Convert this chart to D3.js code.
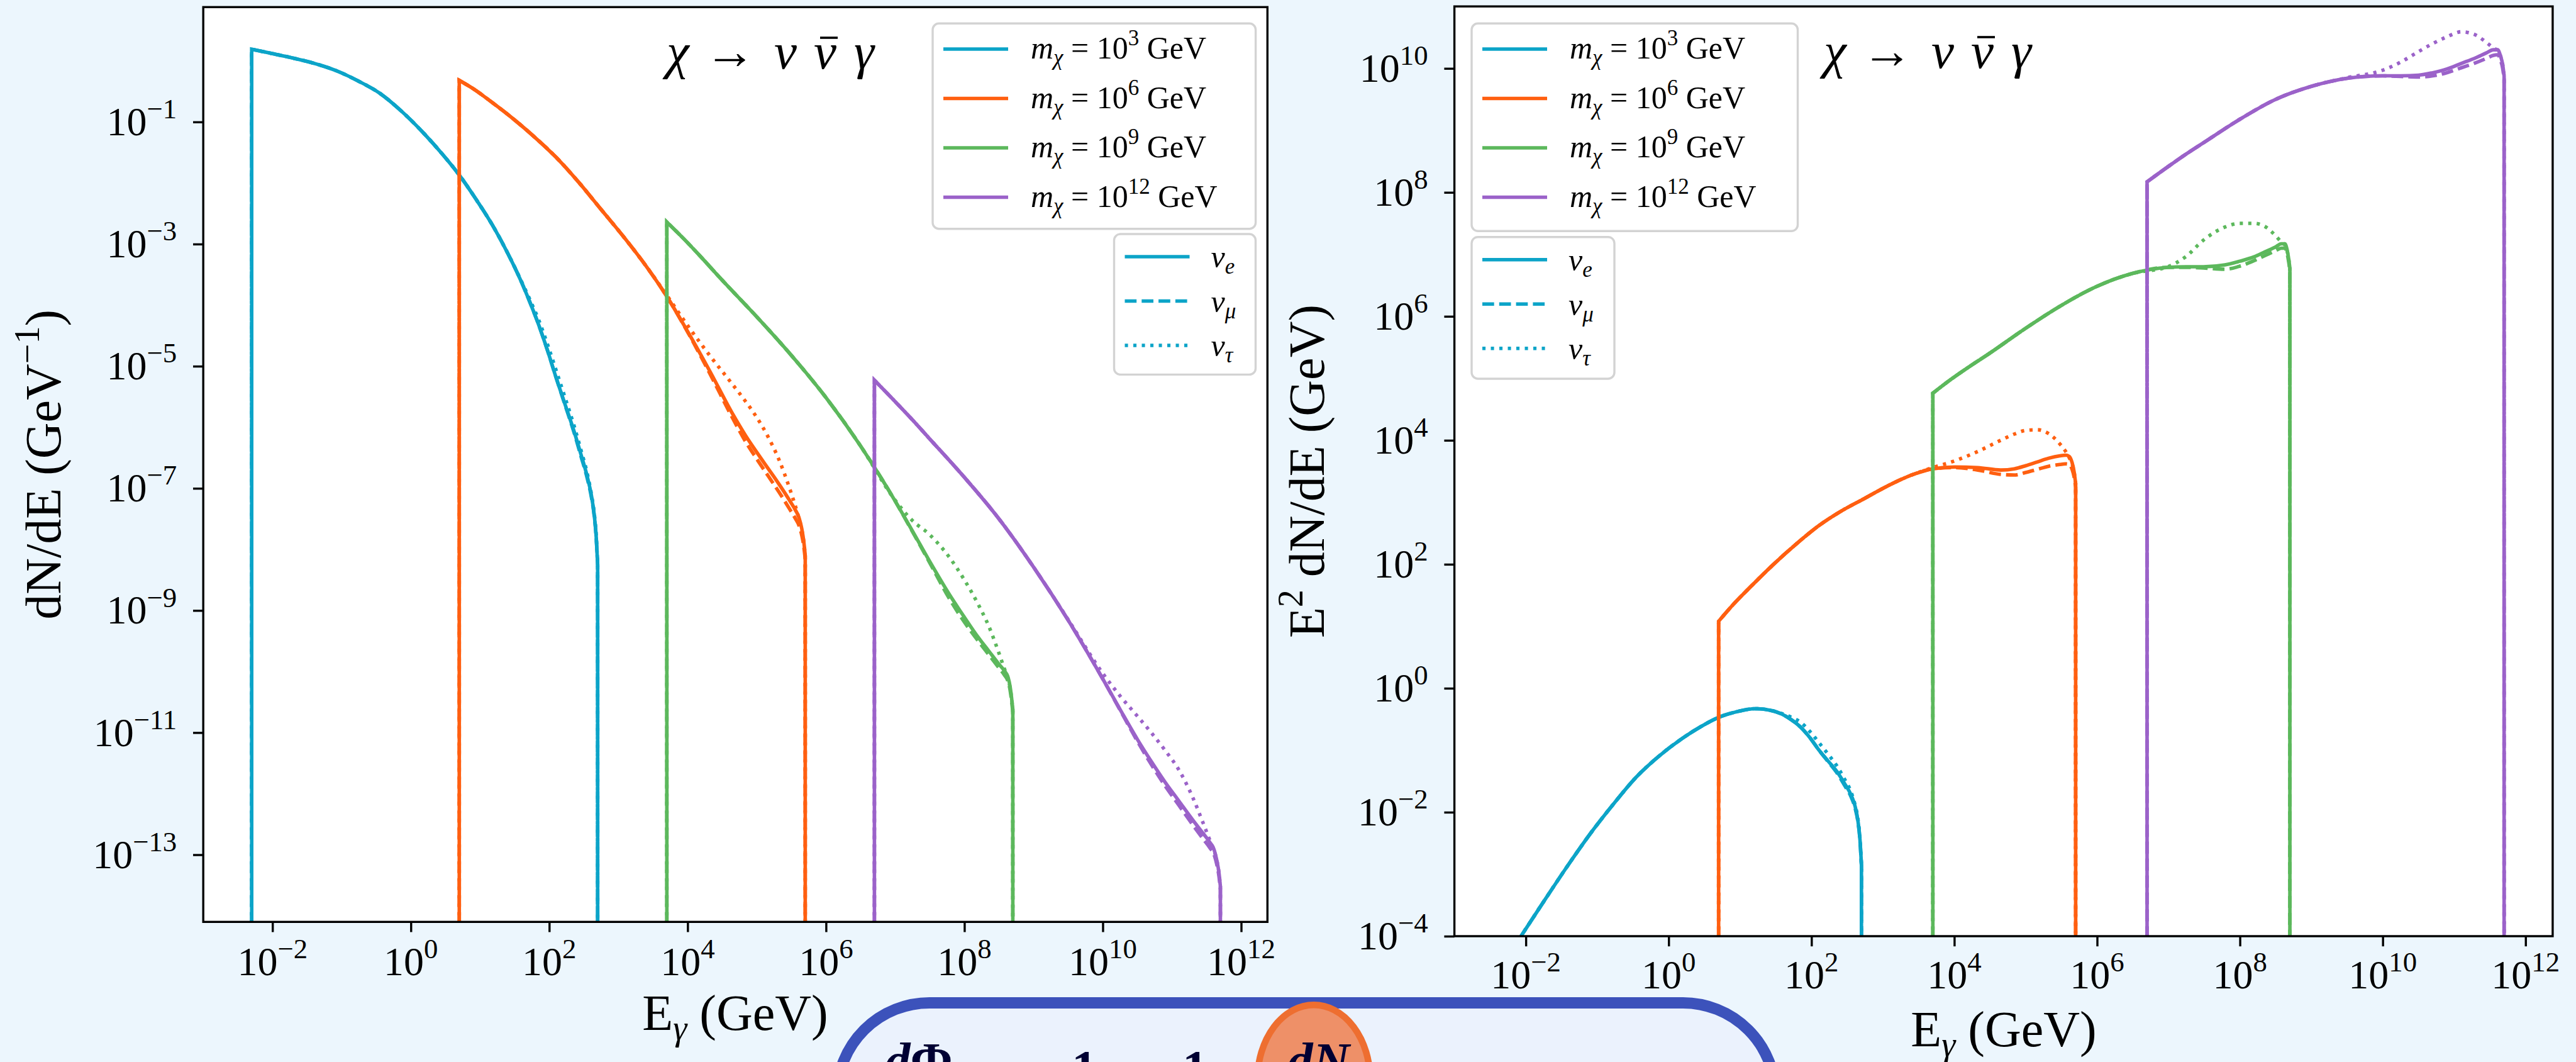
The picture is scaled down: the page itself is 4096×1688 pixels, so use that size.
<!DOCTYPE html>
<html>
<head>
<meta charset="utf-8">
<script src="https://cdn.jsdelivr.net/npm/d3@7"></script>
<style>
    html, body { margin: 0; padding: 0; background: #ecf6fd; overflow: hidden; }
    svg { display: block; }
    text { font-family: "Liberation Serif", "Times New Roman", serif; fill: #000; }
</style>
</head>
<body>
<div id="chart"></div>
<script>
// ---- data (log10 values) ----
// photon energies, log10(E / GeV), for each dark matter mass
const logE_1e3  = [-2.30, -2.05, -1.72, -1.40, -1.08, -0.76, -0.45, -0.13, 0.19, 0.45, 0.70, 0.95, 1.21, 1.40, 1.59, 1.72, 1.85, 1.98, 2.10, 2.23, 2.36, 2.46, 2.55, 2.61, 2.65, 2.68, 2.70];
const logE_1e6  = [0.70, 0.92, 1.15, 1.47, 1.79, 2.10, 2.42, 2.74, 3.06, 3.38, 3.70, 4.01, 4.33, 4.65, 4.84, 5.00, 5.16, 5.32, 5.48, 5.56, 5.61, 5.65, 5.68, 5.70];
const logE_1e9  = [3.70, 3.95, 4.20, 4.49, 4.99, 5.49, 5.99, 6.49, 6.99, 7.25, 7.49, 7.79, 8.00, 8.20, 8.35, 8.50, 8.58, 8.63, 8.66, 8.68, 8.70];
const logE_1e12 = [6.70, 7.00, 7.25, 7.49, 8.00, 8.50, 9.00, 9.50, 10.00, 10.25, 10.50, 10.70, 10.90, 11.10, 11.30, 11.45, 11.55, 11.61, 11.65, 11.68, 11.70];

// log10(E^2 dN/dE / GeV) per neutrino flavour
const nuE_1e3   = [-4.41, -3.97, -3.39, -2.84, -2.32, -1.85, -1.43, -1.09, -0.81, -0.62, -0.47, -0.38, -0.33, -0.35, -0.42, -0.51, -0.63, -0.80, -0.99, -1.17, -1.35, -1.53, -1.71, -1.90, -2.13, -2.45, -2.85];
const nuMu_1e3  = [-4.41, -3.97, -3.39, -2.84, -2.32, -1.85, -1.43, -1.09, -0.81, -0.62, -0.47, -0.38, -0.33, -0.35, -0.42, -0.51, -0.63, -0.80, -0.99, -1.18, -1.37, -1.56, -1.74, -1.93, -2.15, -2.46, -2.86];
const nuTau_1e3 = [-4.41, -3.97, -3.39, -2.84, -2.32, -1.85, -1.43, -1.09, -0.81, -0.62, -0.47, -0.38, -0.33, -0.35, -0.41, -0.47, -0.55, -0.70, -0.87, -1.06, -1.26, -1.46, -1.66, -1.88, -2.10, -2.43, -2.85];

const nuE_1e6   = [1.08, 1.37, 1.64, 2.00, 2.33, 2.62, 2.86, 3.06, 3.26, 3.43, 3.54, 3.57, 3.56, 3.52, 3.54, 3.59, 3.65, 3.71, 3.75, 3.76, 3.74, 3.64, 3.48, 3.30];
const nuMu_1e6  = [1.08, 1.37, 1.64, 2.00, 2.33, 2.62, 2.86, 3.06, 3.26, 3.43, 3.54, 3.56, 3.52, 3.45, 3.44, 3.48, 3.53, 3.58, 3.61, 3.62, 3.61, 3.53, 3.40, 3.24];
const nuTau_1e6 = [1.08, 1.37, 1.64, 2.00, 2.33, 2.62, 2.86, 3.06, 3.26, 3.43, 3.56, 3.67, 3.82, 4.00, 4.10, 4.16, 4.17, 4.11, 3.94, 3.82, 3.72, 3.62, 3.48, 3.30];

const nuE_1e9   = [4.76, 4.98, 5.18, 5.40, 5.80, 6.17, 6.48, 6.69, 6.79, 6.80, 6.80, 6.83, 6.89, 6.96, 7.04, 7.12, 7.17, 7.17, 7.08, 6.95, 6.78];
const nuMu_1e9  = [4.76, 4.98, 5.18, 5.40, 5.80, 6.17, 6.48, 6.69, 6.79, 6.79, 6.78, 6.76, 6.81, 6.90, 6.98, 7.06, 7.10, 7.10, 7.02, 6.90, 6.74];
const nuTau_1e9 = [4.76, 4.98, 5.18, 5.40, 5.80, 6.17, 6.48, 6.69, 6.80, 6.97, 7.23, 7.44, 7.50, 7.50, 7.45, 7.30, 7.20, 7.15, 7.06, 6.95, 6.78];

const nuE_1e12   = [8.17, 8.42, 8.62, 8.80, 9.18, 9.50, 9.71, 9.84, 9.88, 9.88, 9.89, 9.93, 9.99, 10.08, 10.17, 10.25, 10.30, 10.30, 10.20, 10.06, 9.88];
const nuMu_1e12  = [8.17, 8.42, 8.62, 8.80, 9.18, 9.50, 9.71, 9.84, 9.88, 9.87, 9.86, 9.88, 9.93, 10.01, 10.09, 10.16, 10.21, 10.22, 10.13, 10.00, 9.83];
const nuTau_1e12 = [8.17, 8.42, 8.62, 8.80, 9.18, 9.50, 9.71, 9.85, 9.97, 10.10, 10.27, 10.40, 10.51, 10.59, 10.54, 10.42, 10.33, 10.28, 10.20, 10.06, 9.88];

const massExps = ['3', '6', '9', '12'];
const flavourSubs = ['e', 'μ', 'τ'];
const xTickExps = [-2, 0, 2, 4, 6, 8, 10, 12];
const leftYTickExps = [-13, -11, -9, -7, -5, -3, -1];
const rightYTickExps = [-4, -2, 0, 2, 4, 6, 8, 10];

// ---- style ----
const colors = ['#0ca4c8', '#ff5f10', '#5cb85c', '#9b62c9'];
const dashes = [null, '18.7,8.1', '5.1,8.4'];
const LW = 5.6;
const FS_TICK = 64, FS_LABEL = 80, FS_LEG = 50, FS_TITLE = 81;

const spectra = [
    { logE: logE_1e3,  flav: [nuE_1e3,  nuMu_1e3,  nuTau_1e3] },
    { logE: logE_1e6,  flav: [nuE_1e6,  nuMu_1e6,  nuTau_1e6] },
    { logE: logE_1e9,  flav: [nuE_1e9,  nuMu_1e9,  nuTau_1e9] },
    { logE: logE_1e12, flav: [nuE_1e12, nuMu_1e12, nuTau_1e12] }
];

const panels = [
    {
        id: 'left', x0: 323.2, x1: 2015.3, y0: 11.3, y1: 1465.3,
        yDom: [-14.1, 0.88], yTicks: leftYTickExps,
        tickBase: 1550, xLab: [1169, 1637], yLab: [95.6, 738.3], titleX: 1060, titleY: 109,
        leg1: { x: 1483, y: 37.3, w: 513.6, h: 326.4 }, leg2: { x: 1771.5, y: 372, w: 225, h: 223.4 },
        yLabel: [{ t: 'dN/dE (GeV' }, { t: '−1', pos: 'sup' }, { t: ')' }],
        value: (le, lv) => lv - 2 * le      // dN/dE = (E^2 dN/dE) / E^2
    },
    {
        id: 'right', x0: 2312.6, x1: 4058.9, y0: 10.2, y1: 1488,
        yDom: [-4, 11], yTicks: rightYTickExps,
        tickBase: 1571, xLab: [3186, 1663], yLab: [2105, 749], titleX: 2900, titleY: 108,
        leg1: { x: 2340, y: 37.3, w: 518.5, h: 330 }, leg2: { x: 2340, y: 376.7, w: 227, h: 225.3 },
        yLabel: [{ t: 'E' }, { t: '2', pos: 'sup' }, { t: ' dN/dE (GeV)' }],
        value: (le, lv) => lv
    }
];

const svg = d3.select('#chart').append('svg')
    .attr('width', 4096)
    .attr('height', 1688);

svg.append('rect').attr('width', 4096).attr('height', 1688).attr('fill', '#ecf6fd');

// text with sub/superscripts built from tspans (relative dy keeps one text chunk)
function richText(g, x, y, fs, parts, anchor) {
    const t = g.append('text')
        .attr('x', x).attr('y', y)
        .style('font-size', fs + 'px')
        .attr('text-anchor', anchor || 'start');
    let cur = 0;
    parts.forEach(p => {
        const s = t.append('tspan').text(p.t);
        let target = 0;
        if (p.pos === 'sup') { target = -0.42 * fs; s.style('font-size', (0.7 * fs) + 'px'); }
        if (p.pos === 'sub') { target = 0.2 * fs; s.style('font-size', (0.7 * fs) + 'px'); }
        if (target !== cur) s.attr('dy', target - cur);
        cur = target;
        if (p.it) s.style('font-style', 'italic');
    });
    return t;
}

const pow10 = e => Math.pow(10, e);

panels.forEach(P => {
    const x = d3.scaleLog().domain([pow10(-3.0), pow10(12.38)]).range([P.x0, P.x1]);
    const y = d3.scaleLog().domain([pow10(P.yDom[0]), pow10(P.yDom[1])]).range([P.y1, P.y0]);

    svg.append('rect')
        .attr('x', P.x0).attr('y', P.y0)
        .attr('width', P.x1 - P.x0).attr('height', P.y1 - P.y0)
        .attr('fill', '#fff');

    svg.append('clipPath').attr('id', 'clip-' + P.id)
        .append('rect')
        .attr('x', P.x0).attr('y', P.y0)
        .attr('width', P.x1 - P.x0).attr('height', P.y1 - P.y0);

    const plot = svg.append('g').attr('clip-path', `url(#clip-${P.id})`);
    const line = d3.line()
        .x(d => x(d[0]))
        .y(d => y(d[1]))
        .curve(d3.curveMonotoneX);
    const yBottom = P.y1 + 30;

    spectra.forEach((sp, mi) => {
        sp.flav.forEach((vals, fi) => {
            const pts = sp.logE.map((le, i) => [pow10(le), pow10(P.value(le, vals[i]))]);
            const body = line(pts);
            const xs = x(pts[0][0]);
            const xe = x(pts[pts.length - 1][0]);
            // spectra start and end with a sharp drop to zero
            plot.append('path')
                .attr('d', `M${xs},${yBottom}L` + body.slice(1) + `L${xe},${yBottom}`)
                .attr('fill', 'none')
                .attr('stroke', colors[mi])
                .attr('stroke-width', LW)
                .attr('stroke-dasharray', dashes[fi]);
        });
    });

    // axes
    const xAxis = d3.axisBottom(x)
        .tickValues(xTickExps.map(pow10))
        .tickSize(16.2)
        .tickSizeOuter(0)
        .tickFormat('');
    const gx = svg.append('g')
        .attr('transform', `translate(0,${P.y1})`)
        .call(xAxis);
    gx.select('.domain').remove();
    gx.selectAll('line').attr('stroke', '#000').attr('stroke-width', 3.4);

    const yAxis = d3.axisLeft(y)
        .tickValues(P.yTicks.map(pow10))
        .tickSize(16.2)
        .tickSizeOuter(0)
        .tickFormat('');
    const gy = svg.append('g')
        .attr('transform', `translate(${P.x0},0)`)
        .call(yAxis);
    gy.select('.domain').remove();
    gy.selectAll('line').attr('stroke', '#000').attr('stroke-width', 3.4);

    const labels = svg.append('g');
    xTickExps.forEach(e => {
        richText(labels, x(pow10(e)), P.tickBase, FS_TICK,
            [{ t: '10' }, { t: String(e).replace('-', '−'), pos: 'sup' }], 'middle');
    });
    P.yTicks.forEach(e => {
        richText(labels, P.x0 - 42, y(pow10(e)) + 0.33 * FS_TICK, FS_TICK,
            [{ t: '10' }, { t: String(e).replace('-', '−'), pos: 'sup' }], 'end');
    });

    // frame
    svg.append('rect')
        .attr('x', P.x0).attr('y', P.y0)
        .attr('width', P.x1 - P.x0).attr('height', P.y1 - P.y0)
        .attr('fill', 'none')
        .attr('stroke', '#000')
        .attr('stroke-width', 3.4);

    // axis labels
    richText(svg, P.xLab[0], P.xLab[1], FS_LABEL,
        [{ t: 'E' }, { t: 'γ', pos: 'sub', it: true }, { t: ' (GeV)' }], 'middle');
    const gyl = svg.append('g')
        .attr('transform', `translate(${P.yLab[0]},${P.yLab[1]}) rotate(-90)`);
    richText(gyl, 0, 0, FS_LABEL, P.yLabel, 'middle');

    // title  chi -> nu nubar gamma
    const title = [
        { t: 'χ', dx: 0, it: true },
        { t: '→', dx: 60 },
        { t: 'ν', dx: 171, it: true },
        { t: 'ν', dx: 234, it: true },
        { t: 'γ', dx: 298, it: true }
    ];
    title.forEach(g => {
        svg.append('text')
            .attr('x', P.titleX + g.dx)
            .attr('y', P.titleY)
            .style('font-size', FS_TITLE + 'px')
            .style('font-style', g.it ? 'italic' : 'normal')
            .text(g.t);
    });
    // bar over the antineutrino
    svg.append('line')
        .attr('x1', P.titleX + 234 + 10).attr('x2', P.titleX + 234 + 38)
        .attr('y1', P.titleY - 49).attr('y2', P.titleY - 49)
        .attr('stroke', '#000').attr('stroke-width', 3.6);

    // legends
    const legFrame = b => svg.append('rect')
        .attr('x', b.x).attr('y', b.y)
        .attr('width', b.w).attr('height', b.h)
        .attr('rx', 10).attr('ry', 10)
        .attr('fill', '#fff')
        .attr('stroke', '#d3d3d3')
        .attr('stroke-width', 3.4);

    legFrame(P.leg1);
    massExps.forEach((m, i) => {
        const ry = P.leg1.y + 40.7 + i * 78.5;
        svg.append('line')
            .attr('x1', P.leg1.x + 17).attr('x2', P.leg1.x + 120)
            .attr('y1', ry).attr('y2', ry)
            .attr('stroke', colors[i]).attr('stroke-width', LW);
        richText(svg, P.leg1.x + 156, ry + 15.4, FS_LEG, [
            { t: 'm', it: true }, { t: 'χ', pos: 'sub', it: true },
            { t: ' = 10' }, { t: m, pos: 'sup' }, { t: '  GeV' }
        ]);
    });

    legFrame(P.leg2);
    flavourSubs.forEach((f, i) => {
        const ry = P.leg2.y + 36 + i * 70.5;
        svg.append('line')
            .attr('x1', P.leg2.x + 17).attr('x2', P.leg2.x + 120)
            .attr('y1', ry).attr('y2', ry)
            .attr('stroke', colors[0]).attr('stroke-width', LW)
            .attr('stroke-dasharray', dashes[i]);
        richText(svg, P.leg2.x + 154, ry + 17.4, FS_LEG, [
            { t: 'ν', it: true }, { t: f, pos: 'sub', it: true }
        ]);
    });
});

// slide overlay at the bottom: boxed flux formula, cut by the page edge
const box = svg.append('g');
box.append('rect')
    .attr('x', 1331).attr('y', 1594)
    .attr('width', 1492).attr('height', 400)
    .attr('rx', 147).attr('ry', 147)
    .attr('fill', '#ebf2fd')
    .attr('stroke', '#3c52bb')
    .attr('stroke-width', 17.8);
box.append('ellipse')
    .attr('cx', 2089).attr('cy', 1716)
    .attr('rx', 89.5).attr('ry', 118.7)
    .attr('fill', '#ee9068')
    .attr('stroke', '#ee6e30')
    .attr('stroke-width', 10.5);

const formula = [
    { x: 1407, y: 1713, parts: [{ t: 'd', it: true }, { t: 'Φ' }] },
    { x: 1704, y: 1724.5, parts: [{ t: '1' }] },
    { x: 1880, y: 1724.5, parts: [{ t: '1' }] },
    { x: 2047, y: 1713, parts: [{ t: 'd', it: true }, { t: 'N', it: true }] }
];
formula.forEach(f => {
    richText(box, f.x, f.y, 81, f.parts)
        .style('font-weight', 'bold')
        .selectAll('tspan').style('fill', '#000033');
});
</script>
</body>
</html>
